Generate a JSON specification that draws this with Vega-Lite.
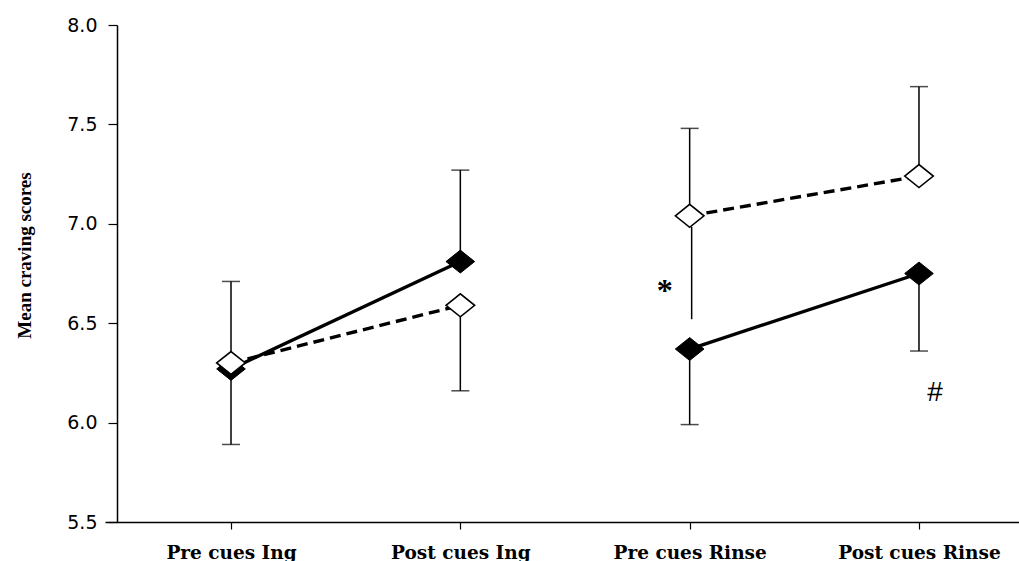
{
  "$schema": "https://vega.github.io/schema/vega-lite/v6.json",
  "autosize": "none",
  "width": 914,
  "height": 497,
  "padding": {"left": 105, "top": 25, "right": 0, "bottom": 39},
  "background": "white",
  "config": {"view": {"stroke": null}},
  "datasets": {
    "means": [
      {"time": "Pre cues Ing", "cond": "Ing", "series": "filled", "value": 6.27, "err": 5.89},
      {"time": "Pre cues Ing", "cond": "Ing", "series": "open", "value": 6.30, "err": 6.71},
      {"time": "Post cues Ing", "cond": "Ing", "series": "filled", "value": 6.81, "err": 7.27},
      {"time": "Post cues Ing", "cond": "Ing", "series": "open", "value": 6.59, "err": 6.16},
      {"time": "Pre cues Rinse", "cond": "Rinse", "series": "filled", "value": 6.37, "err": 5.99},
      {"time": "Pre cues Rinse", "cond": "Rinse", "series": "open", "value": 7.04, "err": 7.48},
      {"time": "Post cues Rinse", "cond": "Rinse", "series": "filled", "value": 6.75, "err": 6.36},
      {"time": "Post cues Rinse", "cond": "Rinse", "series": "open", "value": 7.24, "err": 7.69}
    ],
    "sig": [
      {"time": "Pre cues Rinse", "from": 6.985, "to": 6.52}
    ],
    "marks": [
      {"time": "Pre cues Rinse", "label": "*", "y": 6.61},
      {"time": "Post cues Rinse", "label": "#", "y": 6.11}
    ]
  },
  "encoding": {
    "x": {
      "field": "time",
      "type": "nominal",
      "sort": ["Pre cues Ing", "Post cues Ing", "Pre cues Rinse", "Post cues Rinse"],
      "scale": {"type": "point", "padding": 0.4928, "align": 0.5575},
      "axis": {
        "title": null,
        "labelAngle": 0,
        "domainColor": "black",
        "domainWidth": 1.5,
        "tickColor": "black",
        "tickWidth": 1.2,
        "tickSize": 7,
        "labelFont": "DejaVu Serif",
        "labelFontWeight": "bold",
        "labelFontSize": 18.5,
        "labelColor": "black",
        "labelPadding": 14,
        "grid": false
      }
    }
  },
  "layer": [
    {
      "data": {"name": "means"},
      "transform": [{"filter": "datum.series === 'open'"}],
      "mark": {"type": "line", "color": "black", "strokeWidth": 3.4, "strokeDash": [11, 6]},
      "encoding": {
        "y": {
          "field": "value",
          "type": "quantitative",
          "scale": {"domain": [5.5, 8.0], "nice": false, "zero": false},
          "axis": {
            "title": "Mean craving scores",
            "titleFont": "Liberation Serif",
            "titleFontWeight": "bold",
            "titleFontSize": 19,
            "titleColor": "black",
            "titleAngle": -90,
            "titleAlign": "center",
            "titleBaseline": "bottom",
            "titleX": -83,
            "titleY": 230,
            "offset": -12,
            "values": [5.5, 6.0, 6.5, 7.0, 7.5, 8.0],
            "format": ".1f",
            "domainColor": "black",
            "domainWidth": 1.5,
            "tickColor": "black",
            "tickWidth": 1.2,
            "tickSize": 9,
            "labelFont": "DejaVu Sans",
            "labelFontSize": 19,
            "labelColor": "black",
            "labelPadding": 11,
            "grid": false
          }
        },
        "detail": {"field": "cond"}
      }
    },
    {
      "data": {"name": "means"},
      "transform": [{"filter": "datum.series === 'filled'"}],
      "mark": {"type": "line", "color": "black", "strokeWidth": 3.4},
      "encoding": {
        "y": {"field": "value", "type": "quantitative"},
        "detail": {"field": "cond"}
      }
    },
    {
      "data": {"name": "means"},
      "mark": {"type": "rule", "color": "black", "strokeWidth": 1.5},
      "encoding": {
        "y": {"field": "value", "type": "quantitative"},
        "y2": {"field": "err"}
      }
    },
    {
      "data": {"name": "means"},
      "mark": {"type": "tick", "color": "black", "thickness": 1.5, "size": 18},
      "encoding": {
        "y": {"field": "err", "type": "quantitative"}
      }
    },
    {
      "data": {"name": "sig"},
      "mark": {"type": "rule", "color": "black", "strokeWidth": 1.5, "xOffset": 2},
      "encoding": {
        "y": {"field": "from", "type": "quantitative"},
        "y2": {"field": "to"}
      }
    },
    {
      "data": {"name": "means"},
      "transform": [{"filter": "datum.series === 'filled'"}],
      "mark": {"type": "point", "shape": "M-1,0L0,-0.8L1,0L0,0.8Z", "size": 820, "filled": true, "fill": "black", "stroke": "black", "strokeWidth": 1, "opacity": 1},
      "encoding": {
        "y": {"field": "value", "type": "quantitative"}
      }
    },
    {
      "data": {"name": "means"},
      "transform": [{"filter": "datum.series === 'open'"}],
      "mark": {"type": "point", "shape": "M-1,0L0,-0.8L1,0L0,0.8Z", "size": 820, "filled": true, "fill": "white", "stroke": "black", "strokeWidth": 1.6, "opacity": 1},
      "encoding": {
        "y": {"field": "value", "type": "quantitative"}
      }
    },
    {
      "data": {"name": "marks"},
      "transform": [{"filter": "datum.label === '*'"}],
      "mark": {"type": "text", "font": "Liberation Serif", "fontWeight": "bold", "fontSize": 32, "color": "black", "dx": -25, "align": "center", "baseline": "alphabetic"},
      "encoding": {
        "y": {"field": "y", "type": "quantitative"},
        "text": {"field": "label"}
      }
    },
    {
      "data": {"name": "marks"},
      "transform": [{"filter": "datum.label === '#'"}],
      "mark": {"type": "text", "font": "Liberation Sans", "fontSize": 28, "color": "black", "dx": 16, "align": "center", "baseline": "alphabetic"},
      "encoding": {
        "y": {"field": "y", "type": "quantitative"},
        "text": {"field": "label"}
      }
    }
  ]
}
